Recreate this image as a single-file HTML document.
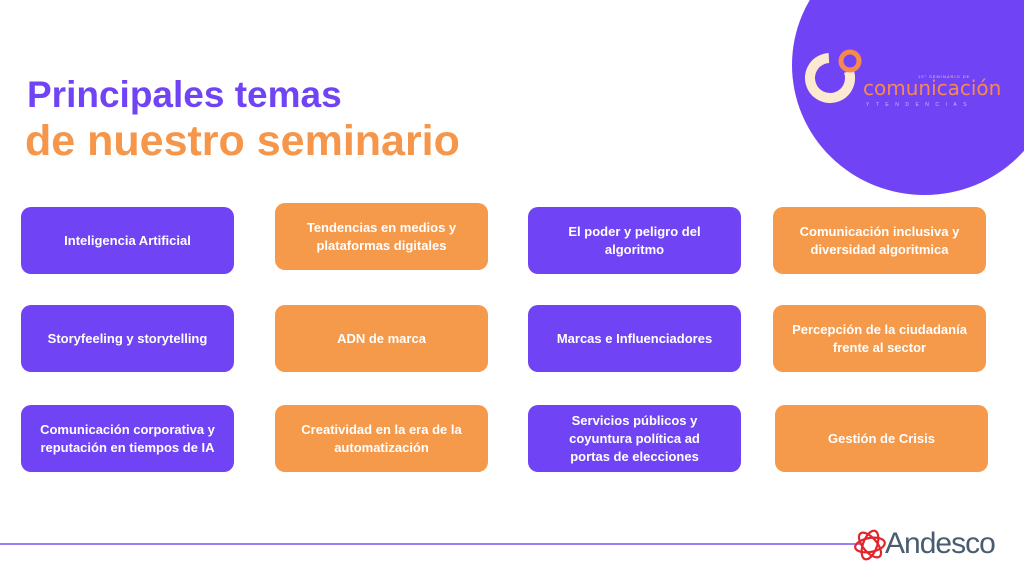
<!DOCTYPE html>
<html><head><meta charset="utf-8"><style>
body{margin:0;width:1024px;height:576px;position:relative;overflow:hidden;background:#fff;font-family:"Liberation Sans",sans-serif}
.c{position:absolute;left:792px;top:-65px;width:265px;height:260px;border-radius:50%;background:#7044f4}
.t1{position:absolute;left:27px;top:74px;font-size:37px;font-weight:bold;color:#7044f4}
.t2{position:absolute;left:25px;top:117px;font-size:43px;font-weight:bold;color:#f5964a}
.b{position:absolute;width:213px;height:67px;border-radius:10px;display:flex;align-items:center;justify-content:center;text-align:center;color:#fff;font-weight:bold;font-size:13px;line-height:18px;padding:0 22px;box-sizing:border-box}
.p{background:#7044f4}.o{background:#f5994b}
</style></head><body>
<div class="c"></div>
<svg style="position:absolute;left:800px;top:40px" width="220" height="80">
<circle cx="30" cy="38" r="20" fill="none" stroke="#fde9cf" stroke-width="10" stroke-dasharray="100 26" transform="rotate(-20 30 38)"/>
<circle cx="50" cy="21" r="9" fill="none" stroke="#f5894f" stroke-width="5"/>
<text x="118" y="38" font-size="4" fill="#f5c9a0" font-family="Liberation Sans" letter-spacing="1">10° SEMINARIO DE</text>
<text x="63" y="55" font-size="20" fill="#f5894f" font-family="DejaVu Sans">comunicación</text>
<text x="66" y="66" font-size="5" fill="#c9b7ff" letter-spacing="6.5" font-family="Liberation Sans">YTENDENCIAS</text>
</svg>
<div class="t1">Principales temas</div>
<div class="t2">de nuestro seminario</div>
<div class="b p" style="left:21px;top:207px">Inteligencia Artificial</div>
<div class="b o" style="left:275px;top:203px">Tendencias en medios y plataformas digitales</div>
<div class="b p" style="left:528px;top:207px">El poder y peligro del algoritmo</div>
<div class="b o" style="left:773px;top:207px">Comunicación inclusiva y diversidad algoritmica</div>
<div class="b p" style="left:21px;top:305px">Storyfeeling y storytelling</div>
<div class="b o" style="left:275px;top:305px">ADN de marca</div>
<div class="b p" style="left:528px;top:305px">Marcas e Influenciadores</div>
<div class="b o" style="left:773px;top:305px;padding:0 10px">Percepción de la ciudadanía frente al sector</div>
<div class="b p" style="left:21px;top:405px;padding:0 14px">Comunicación corporativa y reputación en tiempos de IA</div>
<div class="b o" style="left:275px;top:405px">Creatividad en la era de la automatización</div>
<div class="b p" style="left:528px;top:405px;padding:0 25px">Servicios públicos y coyuntura política ad portas de elecciones</div>
<div class="b o" style="left:775px;top:405px">Gestión de Crisis</div>
<div style="position:absolute;left:0;top:543px;width:862px;height:2px;background:#9a80f2"></div>
<svg style="position:absolute;left:853px;top:525px" width="40" height="40">
<g fill="none" stroke="#e0262c" stroke-width="2.2">
<ellipse cx="17" cy="20" rx="7" ry="15" transform="rotate(20 17 20)"/>
<ellipse cx="17" cy="20" rx="7" ry="15" transform="rotate(-40 17 20)"/>
<ellipse cx="17" cy="20" rx="7" ry="15" transform="rotate(80 17 20)"/>
</g></svg>
<div style="position:absolute;left:885px;top:527px;font-size:30px;color:#4a5c70;letter-spacing:-1px">Andesco</div>
</body></html>
